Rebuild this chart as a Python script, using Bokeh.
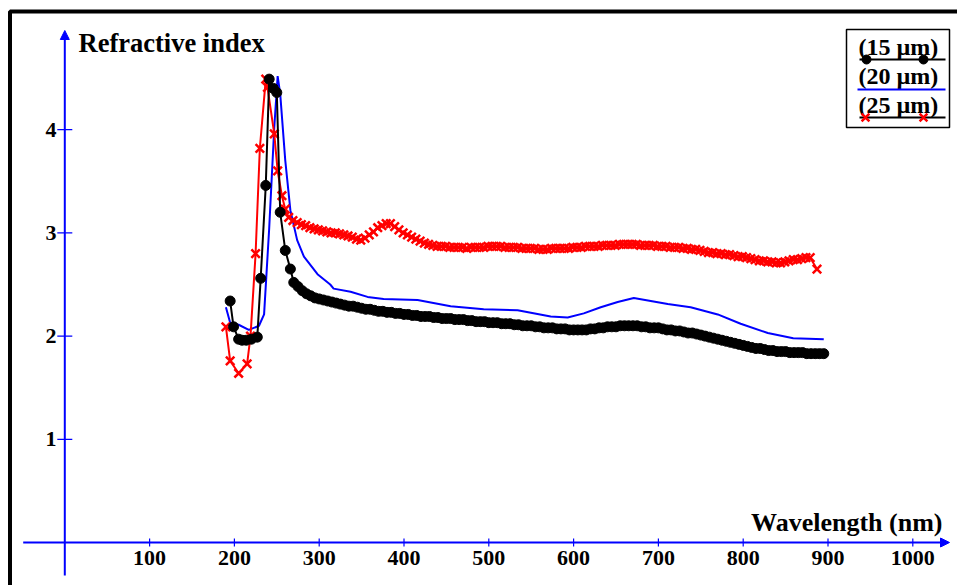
from bokeh.plotting import figure
from bokeh.models import Range1d, Arrow, NormalHead, BoxAnnotation
from bokeh.core.properties import value
from bokeh.embed import file_html
from bokeh.resources import INLINE

# ---------------- data ----------------
# 15 um film (black, circles)
wl_15 = [195, 199, 205, 209, 214, 220, 227, 231, 237, 241, 246, 250, 254, 260, 266, 270,
         275, 280, 285, 290, 295, 300, 305, 310, 315, 320, 325, 330, 335, 340, 345, 350,
         355, 360, 365, 370, 375, 380, 385, 390, 395, 400, 405, 410, 415, 420, 425, 430,
         435, 440, 445, 450, 455, 460, 465, 470, 475, 480, 485, 490, 495, 500, 505, 510,
         515, 520, 525, 530, 535, 540, 545, 550, 555, 560, 565, 570, 575, 580, 585, 590,
         595, 600, 605, 610, 615, 620, 625, 630, 635, 640, 645, 650, 655, 660, 665, 670,
         675, 680, 685, 690, 695, 700, 705, 710, 715, 720, 725, 730, 735, 740, 745, 750,
         755, 760, 765, 770, 775, 780, 785, 790, 795, 800, 805, 810, 815, 820, 825, 830,
         835, 840, 845, 850, 855, 860, 865, 870, 875, 880, 885, 890, 895]
n_15 = [2.34, 2.09, 1.97, 1.96, 1.96, 1.97, 1.99, 2.56, 3.46, 4.49, 4.40, 4.36, 3.20, 2.83, 2.65, 2.52,
        2.48, 2.44, 2.41, 2.39, 2.37, 2.36, 2.35, 2.34, 2.33, 2.32, 2.31, 2.30, 2.29, 2.29, 2.28, 2.27,
        2.26, 2.26, 2.25, 2.24, 2.24, 2.23, 2.23, 2.22, 2.22, 2.21, 2.21, 2.20, 2.20, 2.19, 2.19, 2.19,
        2.18, 2.18, 2.17, 2.17, 2.17, 2.16, 2.16, 2.16, 2.15, 2.15, 2.14, 2.14, 2.14, 2.13, 2.13, 2.13,
        2.12, 2.12, 2.12, 2.11, 2.11, 2.10, 2.10, 2.10, 2.09, 2.09, 2.08, 2.08, 2.08, 2.07, 2.07, 2.07,
        2.06, 2.06, 2.06, 2.06, 2.06, 2.07, 2.07, 2.08, 2.08, 2.09, 2.09, 2.09, 2.10, 2.10, 2.10, 2.10,
        2.10, 2.09, 2.09, 2.08, 2.08, 2.08, 2.07, 2.06, 2.06, 2.05, 2.05, 2.04, 2.03, 2.03, 2.02, 2.01,
        2.00, 1.99, 1.98, 1.97, 1.96, 1.95, 1.94, 1.93, 1.92, 1.91, 1.90, 1.89, 1.88, 1.88, 1.87, 1.86,
        1.86, 1.85, 1.85, 1.85, 1.84, 1.84, 1.84, 1.84, 1.83, 1.83, 1.83, 1.83, 1.83]

# 20 um film (blue line)
wl_20 = [190, 195, 205, 217, 229, 235, 241, 247, 251, 254, 260, 266, 274, 282, 298, 313, 317,
         337, 357, 376, 416, 455, 494, 534, 573, 593, 612, 632, 652, 671, 691, 711, 738, 770,
         797, 829, 859, 895]
n_20 = [2.28, 2.13, 2.11, 2.06, 2.10, 2.21, 3.04, 4.02, 4.52, 4.35, 3.70, 3.22, 2.93, 2.77, 2.60,
        2.50, 2.46, 2.43, 2.38, 2.36, 2.35, 2.29, 2.26, 2.25, 2.19, 2.18, 2.22, 2.28, 2.33, 2.37,
        2.34, 2.31, 2.28, 2.21, 2.12, 2.03, 1.98, 1.97]

# 25 um film (red, crosses)
wl_25 = [190, 195, 205, 215, 219, 225, 230, 237, 239, 247, 251, 256, 260, 264,
         269, 274, 279, 284, 289, 294, 299, 304, 309, 314, 319, 324, 329, 334, 339, 344,
         349, 354, 359, 364, 369, 374, 379, 384, 389, 394, 399, 404, 409, 414, 419, 424,
         429, 434, 439, 444, 449, 454, 459, 464, 469, 474, 479, 484, 489, 494, 499, 504,
         509, 514, 519, 524, 529, 534, 539, 544, 549, 554, 559, 564, 569, 574, 579, 584,
         589, 594, 599, 604, 609, 614, 619, 624, 629, 634, 639, 644, 649, 654, 659, 664,
         669, 674, 679, 684, 689, 694, 699, 704, 709, 714, 719, 724, 729, 734, 739, 744,
         749, 754, 759, 764, 769, 774, 779, 784, 789, 794, 799, 804, 809, 814, 819, 824,
         829, 834, 839, 844, 849, 854, 859, 864, 869, 874, 879, 887]
n_25 = [2.09, 1.76, 1.64, 1.73, 2.00, 2.80, 3.82, 4.49, 4.41, 3.96, 3.60, 3.36, 3.23, 3.15,
        3.12, 3.10, 3.08, 3.07, 3.05, 3.04, 3.03, 3.02, 3.01, 3.00, 3.00, 2.99, 2.98, 2.97, 2.96, 2.94,
        2.93, 2.95, 2.98, 3.01, 3.05, 3.07, 3.09, 3.09, 3.06, 3.03, 3.00, 2.98, 2.96, 2.94, 2.92, 2.90,
        2.89, 2.88, 2.87, 2.87, 2.87, 2.86, 2.86, 2.86, 2.86, 2.85, 2.86, 2.86, 2.86, 2.86, 2.87, 2.87,
        2.87, 2.87, 2.86, 2.86, 2.86, 2.86, 2.85, 2.85, 2.85, 2.85, 2.84, 2.84, 2.84, 2.85, 2.85, 2.85,
        2.85, 2.85, 2.86, 2.86, 2.86, 2.87, 2.87, 2.87, 2.87, 2.88, 2.88, 2.88, 2.88, 2.89, 2.89, 2.89,
        2.89, 2.89, 2.88, 2.88, 2.88, 2.88, 2.87, 2.87, 2.87, 2.86, 2.86, 2.86, 2.85, 2.85, 2.84, 2.84,
        2.83, 2.82, 2.81, 2.81, 2.80, 2.80, 2.79, 2.79, 2.78, 2.77, 2.77, 2.76, 2.75, 2.74, 2.73, 2.73,
        2.72, 2.72, 2.71, 2.71, 2.72, 2.73, 2.74, 2.74, 2.75, 2.76, 2.76, 2.65]

x_ticks = [100, 200, 300, 400, 500, 600, 700, 800, 900, 1000]
x_tick_labels = ["100", "200", "300", "400", "500", "600", "700", "800", "900", "1000"]
y_ticks = [1, 2, 3, 4]
y_tick_labels = ["1", "2", "3", "4"]
series_labels = ["(15 \u00b5m)", "(20 \u00b5m)", "(25 \u00b5m)"]

# ---------------- layout (pixel <-> data) ----------------
W, H = 957, 585
OX, SX = 64.3, 0.848     # pixel of x=0, pixels per nm
OY, SY = 542.0, 103.2    # pixel of y=0, pixels per unit


def px2x(px):
    return (px - OX) / SX


def px2y(py):
    return (OY - py) / SY


FONT = value("Liberation Serif")
BLUE = "#0000FF"
RED = "#FF0000"

p = figure(width=W, height=H, x_range=Range1d(px2x(0), px2x(W)),
           y_range=Range1d(px2y(H), px2y(0)), output_backend="svg",
           toolbar_location=None, min_border=0, x_axis_type=None, y_axis_type=None)
p.outline_line_color = None
p.background_fill_color = "white"
p.border_fill_color = "white"

# outer frame (left and top visible, rest off-canvas)
p.add_layout(BoxAnnotation(left=px2x(9.5), top=px2y(11), right=px2x(1100), bottom=px2y(800),
                           fill_alpha=0, line_color="black", line_alpha=1, line_width=4,
                           level="underlay"))

# axes drawn as arrows
p.add_layout(Arrow(end=NormalHead(size=9, fill_color=BLUE, line_color=BLUE),
                   x_start=0, y_start=px2y(575), x_end=0, y_end=px2y(30),
                   line_color=BLUE, line_width=2))
p.add_layout(Arrow(end=NormalHead(size=9, fill_color=BLUE, line_color=BLUE),
                   x_start=px2x(22.7), y_start=0, x_end=px2x(949), y_end=0,
                   line_color=BLUE, line_width=2))

# tick marks
p.segment(x0=x_ticks, x1=x_ticks, y0=[-4 / SY] * len(x_ticks), y1=[4 / SY] * len(x_ticks),
          line_color=BLUE, line_width=1.2)
p.segment(x0=[-7.5 / SX] * len(y_ticks), x1=[7.5 / SX] * len(y_ticks), y0=y_ticks, y1=y_ticks,
          line_color=BLUE, line_width=1.2)

# tick labels
p.text(x=x_ticks, y=[px2y(550)] * len(x_ticks), text=x_tick_labels, text_font=FONT,
       text_font_style="bold", text_font_size="22px", text_align="center",
       text_baseline="top", text_color="black")
p.text(x=[px2x(56)] * len(y_ticks), y=y_ticks, text=y_tick_labels, text_font=FONT,
       text_font_style="bold", text_font_size="22px", text_align="right",
       text_baseline="middle", text_color="black")

# axis titles
p.text(x=[px2x(78)], y=[px2y(42)], text=["Refractive index"], text_font=FONT,
       text_font_style="bold", text_font_size="26.5px", text_align="left",
       text_baseline="middle", text_color="black")
p.text(x=[px2x(942)], y=[px2y(522)], text=["Wavelength (nm)"], text_font=FONT,
       text_font_style="bold", text_font_size="26px", text_align="right",
       text_baseline="middle", text_color="black")

# series
p.line(wl_20, n_20, line_color=BLUE, line_width=2)
p.line(wl_25, n_25, line_color=RED, line_width=2)
p.scatter(wl_25, n_25, marker="x", size=12, line_color=RED, line_width=2.5)
p.line(wl_15, n_15, line_color="black", line_width=2)
p.scatter(wl_15, n_15, marker="circle", size=10, fill_color="black", line_color="black")

# legend (custom: label above sample line)
p.add_layout(BoxAnnotation(left=px2x(846), right=px2x(949), top=px2y(29), bottom=px2y(127),
                           fill_color="white", fill_alpha=1, line_color="black", line_alpha=1,
                           line_width=1.5, level="underlay"))
p.text(x=[px2x(858)] * 3, y=[px2y(46), px2y(75), px2y(104)], text=series_labels,
       text_font=FONT, text_font_style="bold", text_font_size="24px", text_align="left",
       text_baseline="middle", text_color="black")
p.segment(x0=[px2x(859), px2x(857), px2x(859)], x1=[px2x(945)] * 3,
          y0=[px2y(59), px2y(89), px2y(117)], y1=[px2y(59), px2y(89), px2y(117)],
          line_color=["black", BLUE, "black"], line_width=2)
p.scatter(x=[px2x(866), px2x(923)], y=[px2y(59)] * 2, marker="circle", size=9,
          fill_color="black", line_color="black")
p.scatter(x=[px2x(865), px2x(923)], y=[px2y(117)] * 2, marker="x", size=11,
          line_color=RED, line_width=2.5)

open("out.html", "w").write(file_html(p, INLINE))
